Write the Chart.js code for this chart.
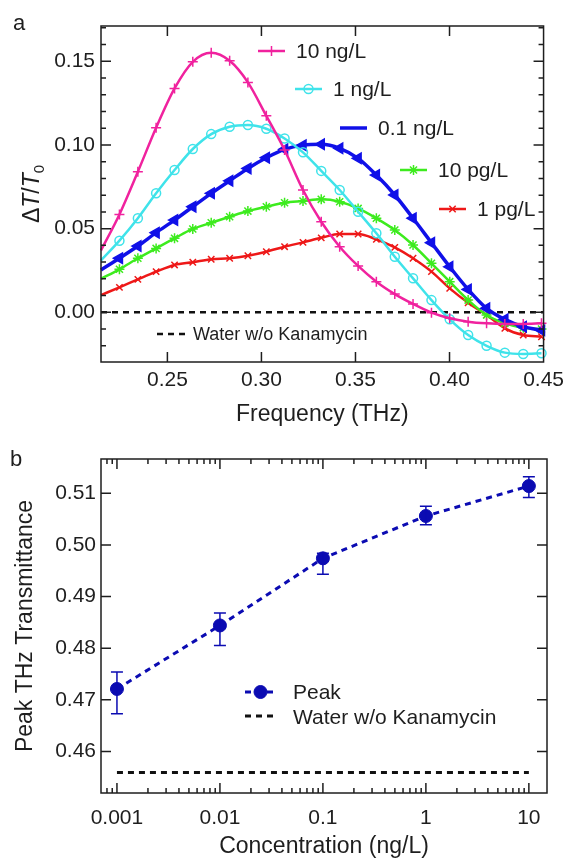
<!DOCTYPE html>
<html>
<head>
<meta charset="utf-8">
<script src="https://cdn.jsdelivr.net/npm/chart.js@4.4.1/dist/chart.umd.min.js"></script>
<style>
    html, body { margin: 0; padding: 0; background: #fff; }
    #wrap { width: 570px; height: 860px; }
    canvas { display: block; }
</style>
</head>
<body>
<div id="wrap">
    <canvas id="spectra" width="570" height="430"></canvas>
    <canvas id="peaks" width="570" height="430"></canvas>
</div>
<script>
// ---- panel a: differential transmission spectra ----
const freqTHz = [0.2147, 0.2245, 0.2343, 0.2440, 0.2538, 0.2635, 0.2733, 0.2831, 0.2928, 0.3026, 0.3123, 0.3221, 0.3318,
    0.3416, 0.3514, 0.3611, 0.3709, 0.3806, 0.3904, 0.4001, 0.4099, 0.4197, 0.4294, 0.4392, 0.4489];
const dT10ngL = [0.037, 0.0585, 0.0840, 0.1103, 0.1338, 0.1497, 0.1551, 0.1503, 0.1374, 0.1174, 0.0970, 0.0731, 0.0541,
    0.0392, 0.0277, 0.0183, 0.0109, 0.0050, -0.0002, -0.0036, -0.0056, -0.0066, -0.0070, -0.0070, -0.0066];
const dT1ngL = [0.031, 0.0428, 0.0562, 0.0711, 0.0850, 0.0976, 0.1065, 0.1109, 0.1119, 0.1097, 0.1039, 0.0956, 0.0845,
    0.0731, 0.0601, 0.0472, 0.0332, 0.0203, 0.0073, -0.0042, -0.0136, -0.0200, -0.0241, -0.0249, -0.0245];
const dT01ngL = [0.0253, 0.0323, 0.0396, 0.0476, 0.0551, 0.0631, 0.0711, 0.0786, 0.0860, 0.0924, 0.0974, 0.0999, 0.1004,
    0.0980, 0.0920, 0.0820, 0.0701, 0.0562, 0.0416, 0.0272, 0.0137, 0.0024, -0.0042, -0.0086, -0.0108];
const dT10pgL = [0.020, 0.0257, 0.0323, 0.0382, 0.0442, 0.0498, 0.0535, 0.0571, 0.0605, 0.0631, 0.0655, 0.0665, 0.0675,
    0.0661, 0.0621, 0.0562, 0.0492, 0.0402, 0.0293, 0.0183, 0.0073, -0.0016, -0.0066, -0.0092, -0.0100];
const dT1pgL = [0.0103, 0.0149, 0.0197, 0.0243, 0.0283, 0.0299, 0.0317, 0.0323, 0.0338, 0.0362, 0.0392, 0.0418, 0.0445,
    0.0468, 0.0468, 0.0436, 0.0388, 0.0323, 0.0243, 0.0143, 0.0057, -0.0016, -0.0096, -0.0136, -0.0146];
const waterFreq = [0.2147, 0.45];
const waterDT = [0, 0];
const seriesLabels = ['10 ng/L', '1 ng/L', '0.1 ng/L', '10 pg/L', '1 pg/L'];
const freqTicks = [0.25, 0.30, 0.35, 0.40, 0.45];
const freqTickLabels = ['0.25', '0.30', '0.35', '0.40', '0.45'];
const dTTicks = [0.00, 0.05, 0.10, 0.15];
const dTTickLabels = ['0.00', '0.05', '0.10', '0.15'];

// ---- panel b: peak transmittance vs concentration ----
const concNgL = [0.001, 0.01, 0.1, 1, 10];
const peakT = [0.4721, 0.4844, 0.4974, 0.5056, 0.5114];
const peakHi = [0.4754, 0.4868, 0.4984, 0.5075, 0.5132];
const peakLo = [0.4673, 0.4805, 0.4943, 0.5039, 0.5092];
const waterConc = [0.001, 10];
const waterT = [0.4559, 0.4559];
const concTicks = [0.001, 0.01, 0.1, 1, 10];
const concTickLabels = ['0.001', '0.01', '0.1', '1', '10'];
const transTicks = [0.46, 0.47, 0.48, 0.49, 0.50, 0.51];
const transTickLabels = ['0.46', '0.47', '0.48', '0.49', '0.50', '0.51'];

const FONT = '"Liberation Sans", Arial, Helvetica, sans-serif';
const INK = '#1e1e1e';
Chart.defaults.font.family = FONT;
Chart.defaults.color = INK;
Chart.defaults.animation = false;

function toPoints(xs, ys) {
    return xs.map((x, i) => ({ x, y: ys[i] }));
}

function fixedTicks(values) {
    return (scale) => {
        scale.ticks = values.map((v) => ({ value: v }));
    };
}

// box around the plot with ticks pointing inwards on all four sides
const framePlugin = {
    id: 'frame',
    afterDatasetsDraw(chart, args, opts) {
        const { ctx, chartArea: a, scales } = chart;
        ctx.save();
        ctx.strokeStyle = INK;
        ctx.lineWidth = 1.5;
        ctx.strokeRect(a.left, a.top, a.right - a.left, a.bottom - a.top);
        ctx.beginPath();
        for (const m of opts.xMarks) {
            const px = scales.x.getPixelForValue(m.v);
            if (px < a.left + 1 || px > a.right - 1) continue;
            ctx.moveTo(px, a.bottom); ctx.lineTo(px, a.bottom - m.len);
            ctx.moveTo(px, a.top); ctx.lineTo(px, a.top + m.len);
        }
        for (const m of opts.yMarks) {
            const py = scales.y.getPixelForValue(m.v);
            if (py < a.top + 1 || py > a.bottom - 1) continue;
            ctx.moveTo(a.left, py); ctx.lineTo(a.left + m.len, py);
            ctx.moveTo(a.right, py); ctx.lineTo(a.right - m.len, py);
        }
        ctx.stroke();
        ctx.restore();
    },
};

function keyText(ctx, text, x, y, size) {
    ctx.font = `${size}px ${FONT}`;
    ctx.fillStyle = INK;
    ctx.textAlign = 'left';
    ctx.textBaseline = 'middle';
    ctx.fillText(text, x, y);
}

function keySample(ctx, ds, x0, x1, y, withMarker) {
    ctx.save();
    ctx.strokeStyle = ds.borderColor;
    ctx.lineWidth = ds.borderWidth;
    ctx.setLineDash(ds.borderDash || []);
    ctx.beginPath();
    ctx.moveTo(x0, y);
    ctx.lineTo(x1, y);
    ctx.stroke();
    ctx.setLineDash([]);
    if (withMarker) {
        ctx.fillStyle = ds.pointBackgroundColor;
        ctx.strokeStyle = ds.pointBorderColor;
        ctx.lineWidth = ds.pointBorderWidth;
        Chart.helpers.drawPoint(ctx, {
            pointStyle: ds.pointStyle,
            rotation: ds.pointRotation || 0,
            radius: ds.pointRadiusKey,
            borderWidth: ds.pointBorderWidth,
        }, (x0 + x1) / 2, y);
    }
    ctx.restore();
}

// staggered key, y title and panel letter for the spectra
const spectraDecor = {
    id: 'spectraDecor',
    afterDraw(chart) {
        const { ctx, chartArea: a } = chart;
        const spots = [[258, 51], [295, 89], [340, 128], [400, 170], [439, 209]];
        seriesLabels.forEach((label, i) => {
            const ds = chart.data.datasets[i];
            const [x, y] = spots[i];
            keySample(ctx, ds, x, x + 27, y, i !== 2);
            keyText(ctx, label, x + 38, y + 1, 21);
        });
        keySample(ctx, chart.data.datasets[5], 157, 186, 334, false);
        keyText(ctx, 'Water w/o Kanamycin', 193, 335, 18);

        // ΔT/T0 rotated, italic T, subscript 0
        const parts = [['Δ', ''], ['T', 'italic '], ['/', ''], ['T', 'italic ']];
        ctx.save();
        ctx.translate(33, (a.top + a.bottom) / 2);
        ctx.rotate(-Math.PI / 2);
        ctx.fillStyle = INK;
        ctx.textBaseline = 'middle';
        ctx.textAlign = 'left';
        let total = 0;
        for (const [t, st] of parts) {
            ctx.font = `${st}23px ${FONT}`;
            total += ctx.measureText(t).width;
        }
        ctx.font = `15px ${FONT}`;
        total += ctx.measureText('0').width;
        let x = -total / 2;
        for (const [t, st] of parts) {
            ctx.font = `${st}23px ${FONT}`;
            ctx.fillText(t, x, 0);
            x += ctx.measureText(t).width;
        }
        ctx.font = `15px ${FONT}`;
        ctx.fillText('0', x, 7);
        ctx.restore();

        ctx.save();
        ctx.font = `22px ${FONT}`;
        ctx.fillStyle = INK;
        ctx.textBaseline = 'alphabetic';
        ctx.fillText('a', 13, 30);
        ctx.restore();
    },
};

const peakDecor = {
    id: 'peakDecor',
    afterDatasetsDraw(chart) {
        const { ctx, scales } = chart;
        const color = chart.data.datasets[0].borderColor;
        ctx.save();
        ctx.strokeStyle = color;
        ctx.lineWidth = 1.5;
        ctx.beginPath();
        concNgL.forEach((c, i) => {
            const px = scales.x.getPixelForValue(c);
            const top = scales.y.getPixelForValue(peakHi[i]);
            const bot = scales.y.getPixelForValue(peakLo[i]);
            ctx.moveTo(px, top); ctx.lineTo(px, bot);
            ctx.moveTo(px - 6, top); ctx.lineTo(px + 6, top);
            ctx.moveTo(px - 6, bot); ctx.lineTo(px + 6, bot);
        });
        ctx.stroke();
        ctx.restore();
    },
    afterDraw(chart) {
        const { ctx } = chart;
        keySample(ctx, chart.data.datasets[0], 245, 276, 262, true);
        keyText(ctx, 'Peak', 293, 263, 21);
        keySample(ctx, chart.data.datasets[1], 245, 276, 286, false);
        keyText(ctx, 'Water w/o Kanamycin', 293, 288, 21);
        ctx.save();
        ctx.font = `22px ${FONT}`;
        ctx.fillStyle = INK;
        ctx.fillText('b', 10, 30);
        ctx.restore();
    },
};

function spectrum(label, values, color, style, radius, width, extra) {
    return Object.assign({
        label,
        data: toPoints(freqTHz, values),
        borderColor: color,
        borderWidth: width,
        pointStyle: style,
        pointRadius: (ctx) => (ctx.dataIndex === 0 ? 0 : radius),
        pointRadiusKey: radius,
        pointBorderColor: color,
        pointBackgroundColor: color,
        pointBorderWidth: 1.5,
        cubicInterpolationMode: 'monotone',
        clip: false,
    }, extra || {});
}

const dTMarks = [];
for (let k = -2; k <= 17; k++) {
    dTMarks.push({ v: k / 100, len: k % 5 === 0 ? 10 : 5 });
}

new Chart(document.getElementById('spectra'), {
    type: 'line',
    data: {
        datasets: [
            spectrum(seriesLabels[0], dT10ngL, '#F0229E', 'cross', 5, 2.5),
            spectrum(seriesLabels[1], dT1ngL, '#3FE3EA', 'circle', 4.5, 2.5, { pointBackgroundColor: 'rgba(255,255,255,0)' }),
            spectrum(seriesLabels[2], dT01ngL, '#1010E8', 'triangle', 6, 3.5, { pointRotation: -90 }),
            spectrum(seriesLabels[3], dT10pgL, '#3DEB1E', 'star', 5, 2.5),
            spectrum(seriesLabels[4], dT1pgL, '#EE1818', 'crossRot', 4.5, 2.5),
            {
                label: 'Water w/o Kanamycin',
                data: toPoints(waterFreq, waterDT),
                borderColor: '#111',
                borderWidth: 2.5,
                borderDash: [6, 5],
                pointRadius: 0,
            },
        ],
    },
    options: {
        responsive: false,
        layout: { padding: { left: 0, right: 22, top: 26, bottom: 0 } },
        plugins: {
            legend: { display: false },
            tooltip: { enabled: false },
            frame: {
                xMarks: freqTicks.map((v) => ({ v, len: 10 })),
                yMarks: dTMarks,
            },
        },
        scales: {
            x: {
                type: 'linear',
                min: 0.2147,
                max: 0.45,
                afterBuildTicks: fixedTicks(freqTicks),
                afterFit: (s) => { s.height = 68; },
                grid: { display: false, drawTicks: false },
                border: { display: false },
                ticks: {
                    autoSkip: false,
                    maxRotation: 0,
                    padding: 6,
                    font: { size: 21 },
                    callback: (v, i) => freqTickLabels[i],
                },
                title: {
                    display: true,
                    text: 'Frequency (THz)',
                    font: { size: 23 },
                    padding: { top: 0, bottom: 2 },
                },
            },
            y: {
                min: -0.0297,
                max: 0.1711,
                afterBuildTicks: fixedTicks(dTTicks),
                afterFit: (s) => { s.width = 101; },
                grid: { display: false, drawTicks: false },
                border: { display: false },
                ticks: {
                    autoSkip: false,
                    padding: 6,
                    font: { size: 21 },
                    callback: (v, i) => dTTickLabels[i],
                },
            },
        },
    },
    plugins: [framePlugin, spectraDecor],
});

const concMarks = [];
for (let e = -4; e <= 1; e++) {
    for (let m = 1; m <= 9; m++) {
        concMarks.push({ v: m * Math.pow(10, e), len: m === 1 ? 10 : 5 });
    }
}

new Chart(document.getElementById('peaks'), {
    type: 'line',
    data: {
        datasets: [
            {
                label: 'Peak',
                data: toPoints(concNgL, peakT),
                borderColor: '#0B0BB2',
                borderWidth: 3,
                borderDash: [6, 5],
                pointStyle: 'circle',
                pointRadius: 6.5,
                pointRadiusKey: 6.5,
                pointBackgroundColor: '#0B0BB2',
                pointBorderColor: '#0B0BB2',
                pointBorderWidth: 1,
            },
            {
                label: 'Water w/o Kanamycin',
                data: toPoints(waterConc, waterT),
                borderColor: '#111',
                borderWidth: 3,
                borderDash: [6, 5],
                pointRadius: 0,
            },
        ],
    },
    options: {
        responsive: false,
        layout: { padding: { left: 0, right: 23, top: 29, bottom: 0 } },
        plugins: {
            legend: { display: false },
            tooltip: { enabled: false },
            frame: {
                xMarks: concMarks,
                yMarks: transTicks.map((v) => ({ v, len: 10 })),
            },
        },
        scales: {
            x: {
                type: 'logarithmic',
                min: 0.0007,
                max: 15,
                afterBuildTicks: fixedTicks(concTicks),
                afterFit: (s) => { s.height = 67; },
                grid: { display: false, drawTicks: false },
                border: { display: false },
                ticks: {
                    autoSkip: false,
                    maxRotation: 0,
                    padding: 13,
                    font: { size: 21 },
                    callback: (v, i) => concTickLabels[i],
                },
                title: {
                    display: true,
                    text: 'Concentration (ng/L)',
                    font: { size: 23 },
                    padding: { top: 0, bottom: 0 },
                },
            },
            y: {
                min: 0.45195,
                max: 0.51664,
                afterBuildTicks: fixedTicks(transTicks),
                afterFit: (s) => { s.width = 101; },
                grid: { display: false, drawTicks: false },
                border: { display: false },
                ticks: {
                    autoSkip: false,
                    padding: 5,
                    font: { size: 21 },
                    callback: (v, i) => transTickLabels[i],
                },
                title: {
                    display: true,
                    text: 'Peak THz Transmittance',
                    font: { size: 23 },
                    padding: { top: 12, bottom: 0 },
                },
            },
        },
    },
    plugins: [framePlugin, peakDecor],
});
</script>
</body>
</html>
